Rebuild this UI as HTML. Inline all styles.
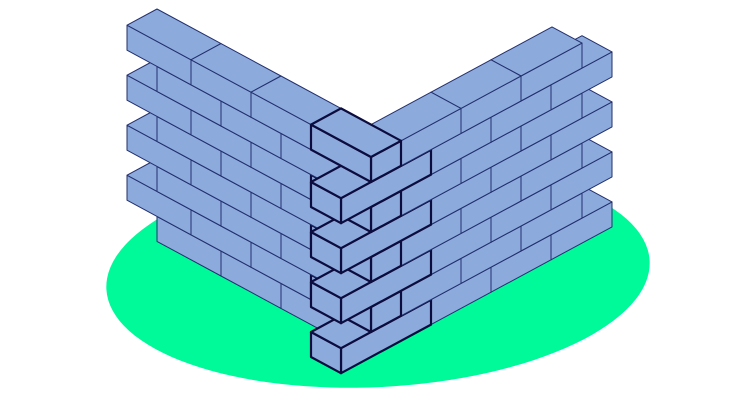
<!DOCTYPE html>
<html><head><meta charset="utf-8"><style>html,body{margin:0;padding:0;background:#fff;width:740px;height:416px;overflow:hidden}</style></head>
<body>
<svg id="s" width="740" height="416" viewBox="0 0 740 416" xmlns="http://www.w3.org/2000/svg">
<ellipse cx="378" cy="275" rx="272" ry="112" fill="#00FA9A" transform="rotate(-3 378 275)"/>
<g id="g"></g>
</svg>
<script>
(function(){
var g=document.getElementById('g');
function P(a,b,z){return [(371-a+b).toFixed(1),(357-0.54*(a+b)-z).toFixed(1)];}
function poly(pts,thick){
  var p=document.createElementNS('http://www.w3.org/2000/svg','polygon');
  p.setAttribute('points',pts.map(function(q){return q.join(',');}).join(' '));
  p.setAttribute('fill','#8DAADC');
  p.setAttribute('stroke',thick?'#0c0c3e':'#22306e');
  p.setAttribute('stroke-width',thick?'2.2':'1');
  p.setAttribute('stroke-linejoin','round');
  g.appendChild(p);
}
function box(a0,a1,b0,b1,z0,z1,thick){
  // R face (a=a0)
  poly([P(a0,b0,z0),P(a0,b1,z0),P(a0,b1,z1),P(a0,b0,z1)],thick);
  // L face (b=b0)
  poly([P(a0,b0,z0),P(a1,b0,z0),P(a1,b0,z1),P(a0,b0,z1)],thick);
  // top
  poly([P(a0,b0,z1),P(a1,b0,z1),P(a1,b1,z1),P(a0,b1,z1)],thick);
}
for(var k=0;k<8;k++){
  var z0=25*k,z1=z0+25,bx=[];
  if(k%2==0){
    bx.push([0,30,-30,60,1]);
    [[60,120],[120,180],[180,241]].forEach(function(r){bx.push([0,30,r[0],r[1],0]);});
    [[30,90],[90,150],[150,214]].forEach(function(r){bx.push([r[0],r[1],0,30,0]);});
  }else{
    bx.push([0,60,0,30,1]);
    [[60,120],[120,180],[180,244]].forEach(function(r){bx.push([r[0],r[1],0,30,0]);});
    [[30,90],[90,150],[150,211]].forEach(function(r){bx.push([0,30,r[0],r[1],0]);});
  }
  bx.sort(function(p,q){return (q[0]+q[2])-(p[0]+p[2]);});
  bx.forEach(function(c){box(c[0],c[1],c[2],c[3],z0,z1,c[4]);});
}
})();
</script>
</body></html>
